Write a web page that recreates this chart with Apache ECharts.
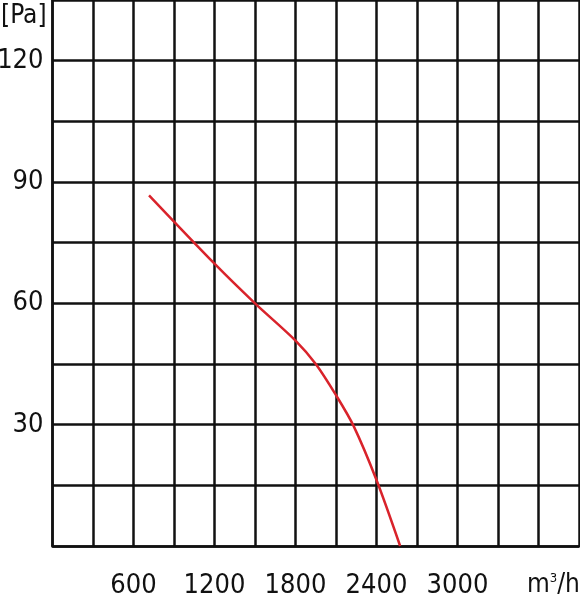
<!DOCTYPE html>
<html>
<head>
<meta charset="utf-8">
<script src="https://cdn.jsdelivr.net/npm/echarts@6/dist/echarts.min.js"></script>
<style>html,body{margin:0;padding:0;background:#fff;}#c{width:580px;height:600px;}</style>
</head>
<body>
<div id="c"></div>
<script>
// Flow (m3/h) vs pressure (Pa)
const flow = [715, 1200, 1500, 1800, 1950, 2100, 2230, 2400, 2575];
const pressure = [86.7, 69.8, 60, 50.8, 45, 37.3, 29.7, 16.3, 0];
const xTickLabels = [600, 1200, 1800, 2400, 3000];
const yTickLabels = [30, 60, 90, 120];
const yUnit = '[Pa]';

const FONT = "'DejaVu Sans Condensed', 'Liberation Sans', sans-serif";
const chart = echarts.init(document.getElementById('c'), null, {renderer: 'canvas'});
chart.setOption({
  animation: false,
  backgroundColor: '#fff',
  grid: {left: 52.5, right: 1, top: 0, bottom: 54, containLabel: false, outerBoundsMode: 'none'},
  xAxis: {
    type: 'value', min: 0, max: 3900, interval: 300,
    axisLine: {show: true, lineStyle: {color: '#111', width: 2.5}},
    axisTick: {show: false},
    splitLine: {show: true, lineStyle: {color: '#111', width: 2.5}},
    axisLabel: {
      margin: 26, color: '#111', fontFamily: FONT, fontSize: 27,
      formatter: v => xTickLabels.includes(v) ? String(v) : ''
    }
  },
  yAxis: {
    type: 'value', min: 0, max: 135, interval: 15,
    axisLine: {show: true, lineStyle: {color: '#111', width: 2.5}},
    axisTick: {show: false},
    splitLine: {show: true, lineStyle: {color: '#111', width: 2.5}},
    axisLabel: {
      margin: 9, color: '#111', fontFamily: FONT, fontSize: 27,
      formatter: v => yTickLabels.includes(v) ? String(v) : ''
    }
  },
  graphic: [
    {type: 'text', left: 1, top: 3, style: {text: yUnit, font: '26px ' + FONT, fill: '#111'}},
    {type: 'text', left: 527, top: 572, style: {
      text: '{b|m}{s|3}{b|/h}', fill: '#111',
      rich: {
        b: {fontFamily: FONT, fontSize: 26, fill: '#111'},
        s: {fontFamily: FONT, fontSize: 13, fill: '#111', verticalAlign: 'top', padding: [0, 0, 12, 0]}
      }
    }}
  ],
  series: [{
    type: 'line',
    data: flow.map((f, i) => [f, pressure[i]]),
    smooth: 0.3,
    showSymbol: false,
    lineStyle: {color: '#d9232b', width: 2.5},
    z: 5
  }]
});
</script>
</body>
</html>
